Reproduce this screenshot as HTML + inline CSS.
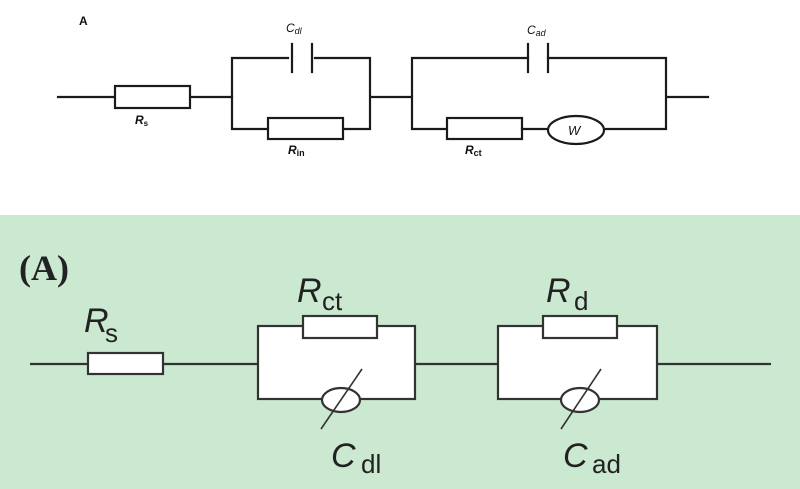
<!DOCTYPE html>
<html>
<head>
<meta charset="utf-8">
<style>
html,body{margin:0;padding:0;background:#fff;}
svg{display:block;}
</style>
</head>
<body>
<svg width="800" height="489" viewBox="0 0 800 489" xmlns="http://www.w3.org/2000/svg">
  <rect x="0" y="0" width="800" height="489" fill="#ffffff"/>
  <!-- Top diagram -->
  <g fill="none" stroke="#1a1a1a" stroke-width="2.2" stroke-linecap="square">
    <line x1="58" y1="97" x2="115" y2="97"/>
    <rect x="115" y="86" width="75" height="22" fill="#fff"/>
    <line x1="192" y1="97" x2="232" y2="97"/>
    <polyline points="288,58 232,58 232,129 268,129"/>
    <line x1="292" y1="44" x2="292" y2="72"/>
    <line x1="312" y1="44" x2="312" y2="72"/>
    <polyline points="315,58 370,58 370,129 343,129"/>
    <rect x="268" y="118" width="75" height="21" fill="#fff"/>
    <line x1="372" y1="97" x2="410" y2="97"/>
    <polyline points="528,58 412,58 412,129 447,129"/>
    <line x1="528" y1="44" x2="528" y2="72"/>
    <line x1="548" y1="44" x2="548" y2="72"/>
    <polyline points="548,58 666,58 666,129 606,129"/>
    <rect x="447" y="118" width="75" height="21" fill="#fff"/>
    <line x1="522" y1="129" x2="548" y2="129"/>
    <ellipse cx="576" cy="130" rx="28" ry="14" fill="#fff"/>
    <line x1="668" y1="97" x2="708" y2="97"/>
  </g>
  <g font-family="'Liberation Sans', sans-serif" fill="#111">
    <text x="79" y="25" font-size="12" font-weight="bold">A</text>
    <text x="286" y="32" font-size="12" font-style="italic">C<tspan font-size="9" dy="2">dl</tspan></text>
    <text x="135" y="124" font-size="12" font-style="italic" font-weight="bold">R<tspan font-size="8" dy="2" font-style="normal">s</tspan></text>
    <text x="288" y="154" font-size="12" font-style="italic" font-weight="bold">R<tspan font-size="9" dy="2" font-style="normal">in</tspan></text>
    <text x="527" y="34" font-size="12" font-style="italic">C<tspan font-size="9" dy="2">ad</tspan></text>
    <text x="465" y="154" font-size="12" font-style="italic" font-weight="bold">R<tspan font-size="9" dy="2" font-style="normal">ct</tspan></text>
    <text x="568" y="135" font-size="13" font-style="italic">W</text>
  </g>

  <!-- Bottom diagram -->
  <rect x="0" y="215" width="800" height="274" fill="#cbe8d0"/>
  <g fill="none" stroke="#333" stroke-width="2.2">
    <line x1="30" y1="364" x2="88" y2="364"/>
    <rect x="88" y="353" width="75" height="21" fill="#fff"/>
    <line x1="163" y1="364" x2="258" y2="364"/>
    <rect x="258" y="326" width="157" height="73" fill="#fff"/>
    <rect x="303" y="316" width="74" height="22" fill="#fff"/>
    <ellipse cx="341" cy="400" rx="19" ry="12" fill="#fff"/>
    <line x1="321" y1="429" x2="362" y2="369" stroke-width="1.6"/>
    <line x1="415" y1="364" x2="498" y2="364"/>
    <rect x="498" y="326" width="159" height="73" fill="#fff"/>
    <rect x="543" y="316" width="74" height="22" fill="#fff"/>
    <ellipse cx="580" cy="400" rx="19" ry="12" fill="#fff"/>
    <line x1="561" y1="429" x2="601" y2="369" stroke-width="1.6"/>
    <line x1="657" y1="364" x2="771" y2="364"/>
  </g>
  <g fill="#222">
    <text x="19" y="280" font-family="'Liberation Serif', serif" font-size="36" font-weight="bold">(A)</text>
    <g font-family="'Liberation Sans', sans-serif">
      <text x="84" y="332" font-size="34" font-style="italic">R</text>
      <text x="105" y="342" font-size="26">s</text>
      <text x="297" y="302" font-size="34" font-style="italic">R</text>
      <text x="322" y="310" font-size="26">ct</text>
      <text x="546" y="302" font-size="34" font-style="italic">R</text>
      <text x="574" y="310" font-size="26">d</text>
      <text x="331" y="467" font-size="34" font-style="italic">C</text>
      <text x="361" y="473" font-size="26">dl</text>
      <text x="563" y="467" font-size="34" font-style="italic">C</text>
      <text x="592" y="473" font-size="26">ad</text>
    </g>
  </g>
</svg>
</body>
</html>
